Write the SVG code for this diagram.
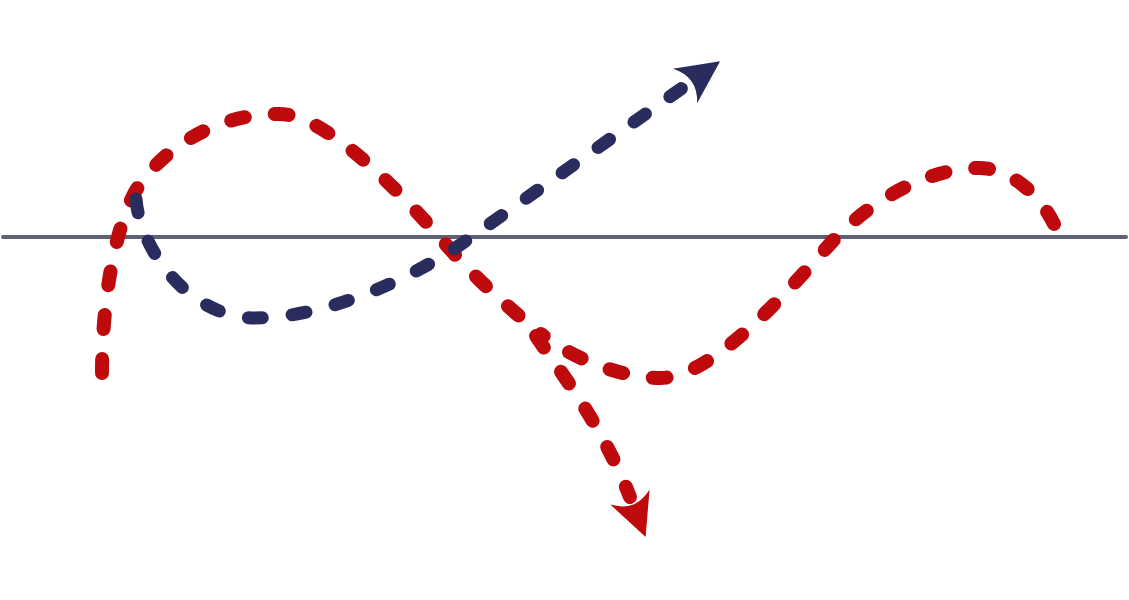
<svg xmlns="http://www.w3.org/2000/svg" width="1129" height="600" viewBox="0 0 1129 600">
  <style>
    .axis { stroke: #5f6177; stroke-width: 4; stroke-linecap: round; fill: none; }
    .red { stroke: #be0a0c; stroke-width: 14; stroke-linecap: round; stroke-dasharray: 14 30; fill: none; }
    .blue { stroke: #292c5c; stroke-width: 13; stroke-linecap: round; stroke-dasharray: 14 30; fill: none; }
  </style>
  <defs>
    <marker id="arrowRed" markerUnits="userSpaceOnUse" viewBox="-2 -24 48 48" markerWidth="48" markerHeight="48" refX="0" refY="0" orient="auto" overflow="visible">
      <path d="M0,-21 L43,0 L0,21 Q16,0 0,-21 Z" fill="#be0a0c"/>
    </marker>
    <marker id="arrowBlue" markerUnits="userSpaceOnUse" viewBox="-2 -24 48 48" markerWidth="48" markerHeight="48" refX="0" refY="0" orient="auto" overflow="visible">
      <path d="M0,-21 L43,0 L0,21 Q16,0 0,-21 Z" fill="#292c5c"/>
    </marker>
  </defs>
  <rect width="1129" height="600" fill="#ffffff"/>
  <g id="axis">
    <path class="axis" d="M3,237 H1126"/>
  </g>
  <g id="connectors">
    <path id="red-loop" class="red" d="M102,373 C102,310 112,235 135,192 C160,150 215,114 277,114 C320,112 390,180 442,240 C475,278 505,305 541,334"/>
    <path id="red-wave" class="red" d="M1054,224 C1040,195 1010,168 979,168 C920,168 860,210 830,244 C780,300 710,378 660,378 C620,378 570,357 541,334"/>
    <path id="red-branch" class="red" d="M536,336 C555,365 600,420 630,497" marker-end="url(#arrowRed)"/>
    <path id="blue-curve" class="blue" d="M136,199 C140,250 190,318 255,318 C320,318 400,285 460,245 L685,86" marker-end="url(#arrowBlue)"/>
  </g>
</svg>
